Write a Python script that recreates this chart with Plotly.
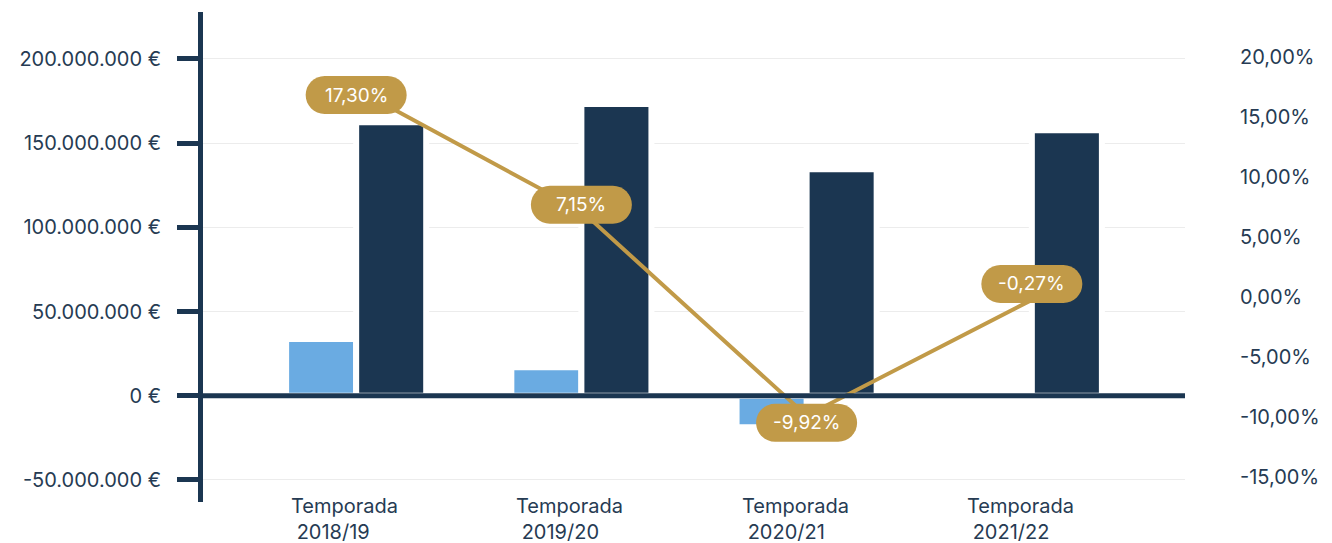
import plotly.graph_objects as go

# --- data -------------------------------------------------------------
temporadas = ["2018/19", "2019/20", "2020/21", "2021/22"]
etiquetas_x = ["Temporada<br>\u00a02018/19", "Temporada<br>\u00a02019/20",
               "Temporada<br>\u00a02020/21", "Temporada<br>\u00a02021/22"]
resultado = [33.7e6, 16.9e6, -18.7e6, None]          # light blue bars
ingresos = [162.4e6, 173.3e6, 134.5e6, 157.7e6]      # dark bars
variacion = [17.30, 7.15, -9.92, -0.27]              # % line (right axis)

ticks_eur = [-50e6, 0, 50e6, 100e6, 150e6, 200e6]
ticks_pct = [-15, -10, -5, 0, 5, 10, 15, 20]

# --- styles -----------------------------------------------------------
NAVY = "#1b3651"
LIGHT = "#6aabe2"
GOLD = "#c19a48"
TEXT = "#263b53"
FONT = "Inter"
SIZE = 20


def fmt_eur(v):
    return f"{v:,.0f}".replace(",", ".") + " \u20ac"


def fmt_pct(v):
    return f"{v:.2f}".replace(".", ",") + "%"


fig = go.Figure()

fig.add_trace(go.Bar(
    x=temporadas, y=resultado,
    marker=dict(color=LIGHT, line=dict(color="white", width=6)),
    yaxis="y", showlegend=False, hoverinfo="skip"))
fig.add_trace(go.Bar(
    x=temporadas, y=ingresos,
    marker=dict(color=NAVY, line=dict(color="white", width=6)),
    yaxis="y", showlegend=False, hoverinfo="skip"))
fig.add_trace(go.Scatter(
    x=temporadas, y=variacion, yaxis="y2", mode="lines",
    line=dict(color=GOLD, width=4), showlegend=False, hoverinfo="skip"))


def pill_path(w, h, dy):
    """Rounded pill outline in pixels around the anchor, moved up by dy px."""
    r = h / 2
    a = w / 2 - r
    k = 0.5523 * r

    def p(x, y):
        return f"{x:.2f},{y + dy:.2f}"

    return (f"M {p(-a, -r)} L {p(a, -r)} "
            f"C {p(a + k, -r)} {p(a + r, -k)} {p(a + r, 0)} "
            f"C {p(a + r, k)} {p(a + k, r)} {p(a, r)} "
            f"L {p(-a, r)} "
            f"C {p(-a - k, r)} {p(-a - r, k)} {p(-a - r, 0)} "
            f"C {p(-a - r, -k)} {p(-a - k, -r)} {p(-a, -r)} Z")


# vertical nudge (px, positive = up) of each pill label
lift = [-6, 6, -7, 16]
shapes = []
annotations = []
for t, v, dy in zip(temporadas, variacion, lift):
    shapes.append(dict(
        type="path", xref="x", yref="y2", xsizemode="pixel", ysizemode="pixel",
        xanchor=t, yanchor=v, path=pill_path(101, 38, dy), fillcolor=GOLD,
        line=dict(width=0), layer="above"))
    annotations.append(dict(
        x=t, y=v, xref="x", yref="y2", text=fmt_pct(v), showarrow=False,
        font=dict(family=FONT, size=19, color="white"), yshift=dy))

# zero line drawn on top of the bars
shapes.append(dict(type="line", xref="paper", yref="y", x0=0, x1=1, y0=0, y1=0,
                   line=dict(color=NAVY, width=5), layer="above"))

# category labels, left aligned under each group
for t, lab in zip(temporadas, etiquetas_x):
    annotations.append(dict(
        x=t, y=0, xref="x", yref="paper", text=lab, showarrow=False,
        xanchor="left", yanchor="top", align="left", xshift=-67, yshift=10,
        font=dict(family=FONT, size=SIZE, color=TEXT)))

fig.update_layout(
    width=1332, height=543,
    margin=dict(l=203, r=147, t=12, b=41),
    paper_bgcolor="white", plot_bgcolor="white",
    barmode="group", bargap=0.378, bargroupgap=0,
    font=dict(family=FONT, size=SIZE, color=TEXT),
    shapes=shapes, annotations=annotations,
    xaxis=dict(range=[-0.68, 3.68], showticklabels=False, showgrid=False,
               zeroline=False, showline=False, ticks=""),
    yaxis=dict(range=[-63.1e6, 227.9e6], tickvals=ticks_eur,
               ticktext=[fmt_eur(v) for v in ticks_eur],
               showgrid=True, gridcolor="#ececec", gridwidth=1, zeroline=False,
               showline=True, linecolor=NAVY, linewidth=5,
               ticks="outside", ticklen=21, tickwidth=5, tickcolor=NAVY,
               ticklabelstandoff=12,
               tickfont=dict(family=FONT, size=SIZE, color=TEXT)),
    yaxis2=dict(range=[-17.11, 23.72], overlaying="y", side="right",
                tickvals=ticks_pct, ticktext=[fmt_pct(v) for v in ticks_pct],
                showgrid=False, zeroline=False, showline=False,
                ticks="outside", ticklen=50, tickcolor="rgba(0,0,0,0)",
                tickfont=dict(family=FONT, size=SIZE, color=TEXT)),
)

fig.write_html("out.html")
